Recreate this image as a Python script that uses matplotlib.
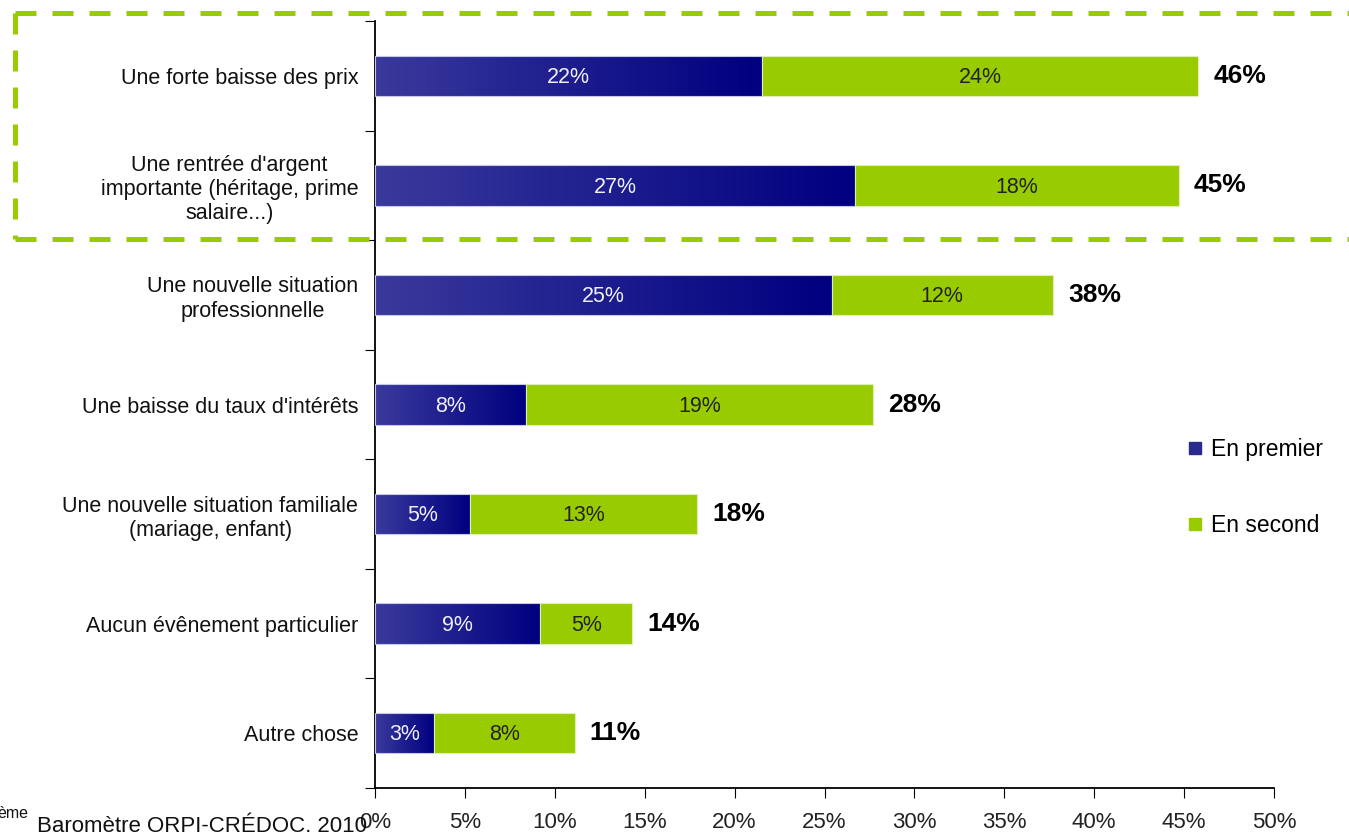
import numpy as np
import matplotlib.pyplot as plt
from matplotlib.lines import Line2D
from matplotlib.colors import LinearSegmentedColormap

plt.rcParams['font.family'] = ['Liberation Sans', 'DejaVu Sans']

categories = ["Une forte baisse des prix",
              "Une rentrée d'argent\nimportante (héritage, prime\nsalaire...)",
              "Une nouvelle situation\nprofessionnelle",
              "Une baisse du taux d'intérêts",
              "Une nouvelle situation familiale\n(mariage, enfant)",
              "Aucun évênement particulier",
              "Autre chose"]
en_premier = [21.5, 26.7, 25.4, 8.4, 5.3, 9.2, 3.3]
en_second = [24.3, 18.0, 12.3, 19.3, 12.6, 5.1, 7.8]
premier_labels = ["22%", "27%", "25%", "8%", "5%", "9%", "3%"]
second_labels = ["24%", "18%", "12%", "19%", "13%", "5%", "8%"]
total_labels = ["46%", "45%", "38%", "28%", "18%", "14%", "11%"]
xticks = [0, 5, 10, 15, 20, 25, 30, 35, 40, 45, 50]

green = '#99cc00'
blue_cmap = LinearSegmentedColormap.from_list('bl', ['#3a3a9c', '#000080'])

fig = plt.figure(figsize=(13.49, 8.32), dpi=100)
ax = fig.add_axes([375 / 1349, 1 - 788 / 832, 899 / 1349, 767 / 832])

n = len(categories)
y = np.arange(n)
h = 0.37
grad = np.linspace(0, 1, 256).reshape(1, -1)
for i in range(n):
    b = en_premier[i]
    bar = ax.barh(y[i], b, height=h, color='none', edgecolor='#c8c8e8', linewidth=0.8, zorder=3)[0]
    im = ax.imshow(grad, cmap=blue_cmap, aspect='auto', extent=[0, b, y[i] + h / 2 + 0.05, y[i] - h / 2 - 0.05],
                   zorder=2, interpolation='bilinear')
    im.set_clip_path(bar)
    ax.barh(y[i], en_second[i], left=b, height=h, color=green, edgecolor='#e0f0b0',
            linewidth=0.8, zorder=3)
    ax.text(b / 2, y[i] + 0.015, premier_labels[i], ha='center', va='center', color='#f0f0ff',
            fontsize=15.5, zorder=4)
    ax.text(b + en_second[i] / 2, y[i] + 0.015, second_labels[i], ha='center', va='center',
            color='#222222', fontsize=15.5, zorder=4)
    ax.text(b + en_second[i] + 0.85, y[i], total_labels[i], ha='left', va='center',
            color='black', fontsize=19, fontweight='bold', zorder=4)

ax.set_xlim(0, 50)
ax.set_ylim(n - 0.5, -0.5)
ax.set_xticks(xticks)
ax.set_xticklabels([f"{t}%" for t in xticks], fontsize=16, color='#222222')
ax.set_yticks(np.arange(n + 1) - 0.5)
ax.set_yticklabels([])
ax.set_yticks(y, minor=True)
ax.set_yticklabels(categories, minor=True, fontsize=15.5, color='#111111', ha='right',
                   multialignment='center')
ax.tick_params(axis='y', which='minor', length=0, pad=12)
ax.tick_params(axis='y', which='major', length=7, direction='out')
ax.tick_params(axis='x', length=7, direction='out', pad=10)
for s in ['top', 'right']:
    ax.spines[s].set_visible(False)
for s in ['left', 'bottom']:
    ax.spines[s].set_linewidth(1.3)

# legend
handles = [Line2D([], [], marker='s', linestyle='none', markersize=8, color='#2a2a8c'),
           Line2D([], [], marker='s', linestyle='none', markersize=8, color=green)]
fig.legend(handles, ["En premier", "En second"], loc='upper left',
           bbox_to_anchor=(1163 / 1349, 1 - 417 / 832), frameon=False, fontsize=16.5,
           labelspacing=2.35, handletextpad=0.2, handlelength=1.0)

# dashed highlight box
x0, x1 = 15 / 1349, 1
yt, yb = 1 - 13 / 832, 1 - 239 / 832
for xs, ys in [([x0, x1], [yt, yt]), ([x0, x1], [yb, yb]), ([x0, x0], [yt, yb])]:
    fig.add_artist(Line2D(xs, ys, color=green, linewidth=3.6, linestyle=(0, (4.2, 3.2)),
                          transform=fig.transFigure))

# source
fig.text(-3 / 1349, 1 - 813 / 832, "ème", fontsize=11.5, color='#111111', va='center')
fig.text(37 / 1349, 1 - 826 / 832, "Baromètre ORPI-CRÉDOC, 2010", fontsize=16,
         color='#111111', va='center')

fig.savefig('out.png', dpi=100)
